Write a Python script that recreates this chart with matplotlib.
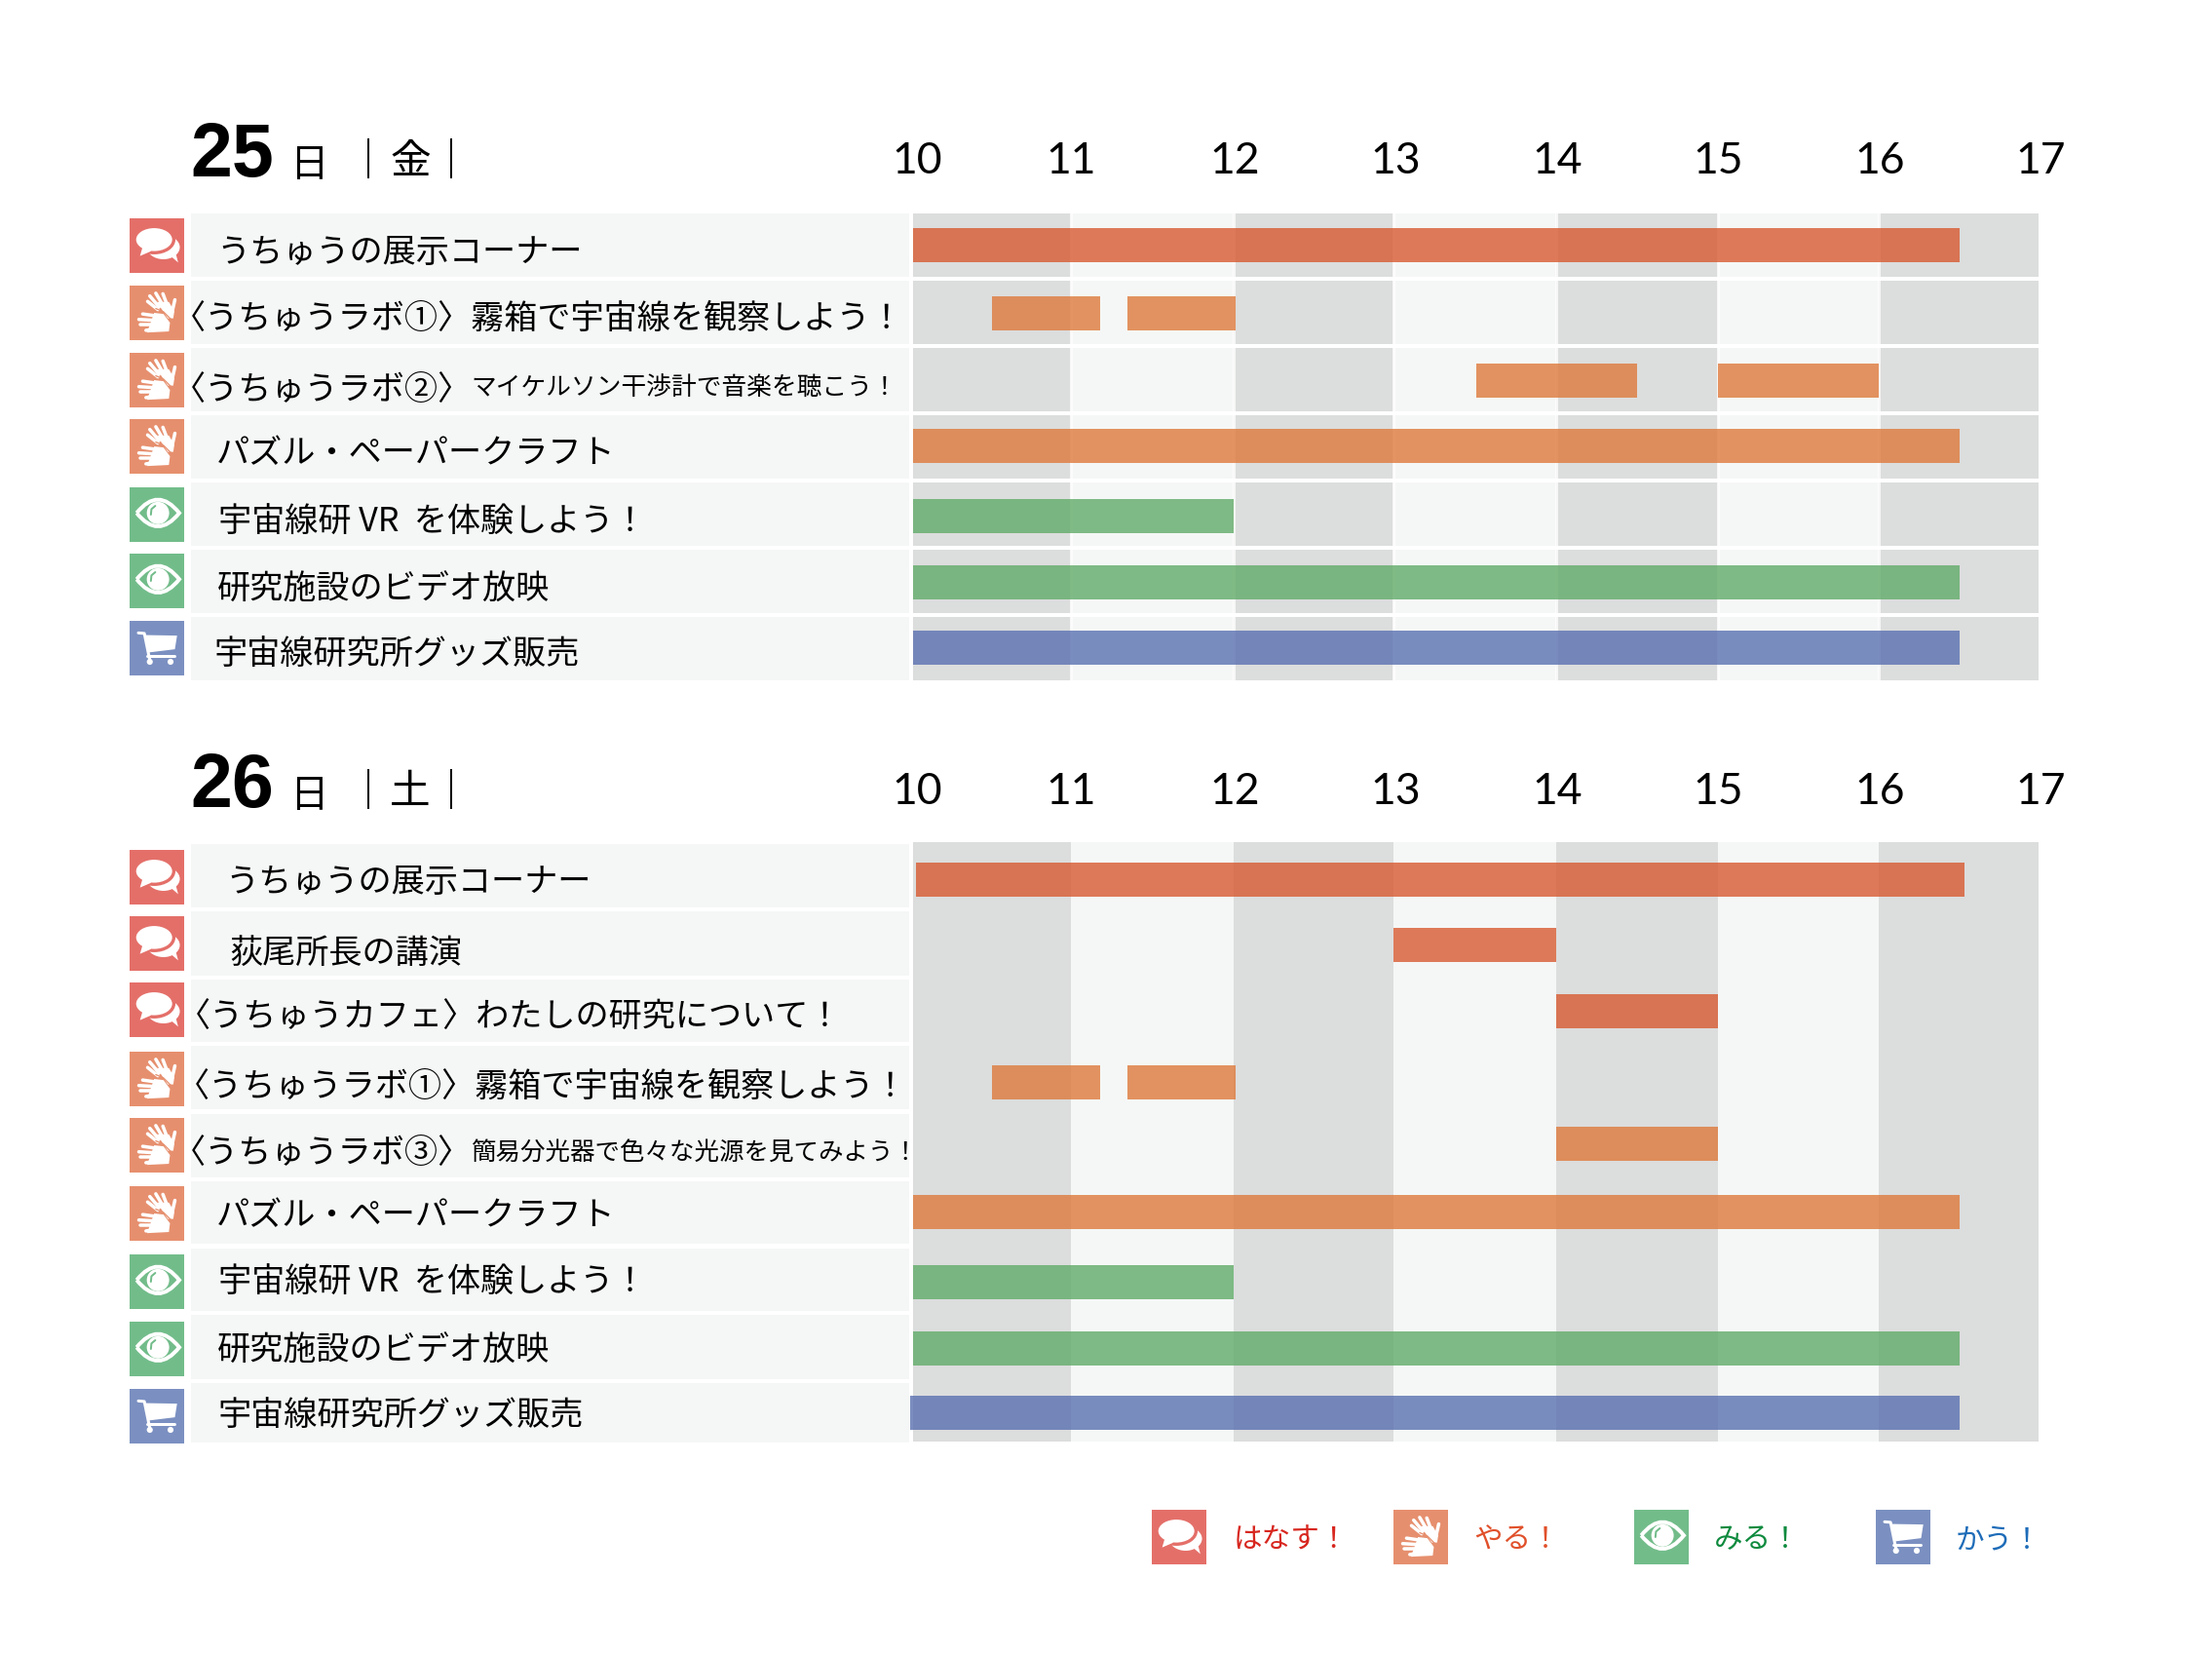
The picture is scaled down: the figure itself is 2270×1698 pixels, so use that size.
import matplotlib
matplotlib.use('Agg')
import matplotlib.pyplot as plt
from matplotlib.lines import Line2D
from matplotlib.patches import Circle, Ellipse, PathPatch, Polygon, Rectangle
from matplotlib.path import Path
from matplotlib.transforms import Affine2D, ScaledTranslation

plt.rcParams['font.family'] = ['Noto Sans CJK JP', 'DejaVu Sans']

W, H = 2270, 1698

# schedule data (hours)
hours = [10, 11, 12, 13, 14, 15, 16, 17]
column_edges = [10, 10.98, 11.99, 12.98, 13.99, 14.99, 15.99, 16.98]

day1_labels = ['うちゅうの展示コーナー', '〈うちゅうラボ①〉霧箱で宇宙線を観察しよう！', '〈うちゅうラボ②〉',
               'パズル・ペーパークラフト', '宇宙線研 VR  を体験しよう！', '研究施設のビデオ放映', '宇宙線研究所グッズ販売']
day1_subs = [None, None, 'マイケルソン干渉計で音楽を聴こう！', None, None, None, None]
day1_kinds = ['talk', 'do', 'do', 'do', 'see', 'see', 'buy']
day1_rows = [0, 1, 1, 2, 2, 3, 4, 5, 6]
day1_starts = [10.0, 10.49, 11.33, 13.49, 14.99, 10.0, 10.0, 10.0, 10.0]
day1_ends = [16.49, 11.16, 12.0, 14.49, 15.99, 16.49, 11.99, 16.49, 16.49]

day2_labels = ['うちゅうの展示コーナー', '荻尾所長の講演', '〈うちゅうカフェ〉わたしの研究について！',
               '〈うちゅうラボ①〉霧箱で宇宙線を観察しよう！', '〈うちゅうラボ③〉', 'パズル・ペーパークラフト',
               '宇宙線研 VR  を体験しよう！', '研究施設のビデオ放映', '宇宙線研究所グッズ販売']
day2_subs = [None, None, None, None, '簡易分光器で色々な光源を見てみよう！', None, None, None, None]
day2_kinds = ['talk', 'talk', 'talk', 'do', 'do', 'do', 'see', 'see', 'buy']
day2_rows = [0, 1, 2, 3, 3, 4, 5, 6, 7, 8]
day2_starts = [10.02, 12.98, 13.99, 10.49, 11.33, 13.99, 10.0, 10.0, 10.0, 9.98]
day2_ends = [16.52, 13.99, 14.99, 11.16, 12.0, 14.99, 16.49, 11.99, 16.49, 16.49]

legend_kinds = ['talk', 'do', 'see', 'buy']
legend_texts = ['はなす！', 'やる！', 'みる！', 'かう！']

# styles
icon_colors = {'talk': '#E46F69', 'do': '#E68F6E', 'see': '#72BC8A', 'buy': '#7B90C1'}
bar_colors = {'talk': '#D75A30', 'do': '#DE793B', 'see': '#61AB69', 'buy': '#5A71B0'}
legend_colors = {'talk': '#D7261E', 'do': '#E0502A', 'see': '#0E8A3E', 'buy': '#1E6CB8'}
GRAY = '#DCDDDD'
LIGHT = '#F5F7F6'

# layout in pixels, y down
day1_band_tops = [219, 288, 357, 426, 495, 564, 633]
day1_band_bottoms = [284, 353, 422, 491, 560, 629, 698]
day1_icon_tops = [224, 293, 362, 430, 500, 568, 637]
day1_text_x = [222, 177, 177, 222, 224, 223, 219]
day1_text_y = [259, 327, 400, 466, 536, 605, 672]
day1_sub_x = [None, None, 483, None, None, None, None]
day1_nudge = [0, 1, 1, -1, 2, 1, -1]

day2_band_tops = [866, 935, 1005, 1073, 1143, 1212, 1281, 1349, 1419]
day2_band_bottoms = [931, 1001, 1069, 1138, 1208, 1276, 1345, 1415, 1480]
day2_icon_tops = [872, 940, 1008, 1079, 1147, 1217, 1287, 1356, 1425]
day2_text_x = [231, 235, 182, 181, 177, 222, 224, 223, 224]
day2_text_y = [905, 978, 1044, 1115, 1184, 1248, 1316, 1386, 1453]
day2_sub_x = [None, None, None, None, 484, None, None, None, None]
day2_nudge = [0, -1.5, -2, 2.5, -3, -1.5, 1.5, 1.5, -1]

tick_offsets = [4, -3, -1, -1, -1, -1, -1, -1]

legend_icon_x = [1182, 1430, 1677, 1925]
legend_text_x = [1266, 1512, 1759, 2007]

fig = plt.figure(figsize=(W / 100, H / 100), dpi=100, facecolor='white')
page = fig.add_axes([0, 0, 1, 1])
page.set_xlim(0, W)
page.set_ylim(H, 0)
page.axis('off')


def px(v):
    return v * 0.72


def draw_icon(kind, x0, y0, size=56):
    page.add_patch(Rectangle((x0, y0), size, size, fc=icon_colors[kind], ec='none'))
    tr = Affine2D().scale(size).translate(x0, y0) + page.transData
    bg = icon_colors[kind]

    def fill(patch):
        patch.set_transform(tr)
        page.add_patch(patch)

    def line(xs, ys, w, color='white'):
        page.add_line(Line2D(xs, ys, color=color, lw=px(w), transform=tr, solid_capstyle='round', solid_joinstyle='round'))

    if kind == 'talk':
        fill(Ellipse((0.62, 0.53), 0.60, 0.44, fc='white', ec='none'))
        fill(Polygon([(0.74, 0.68), (0.89, 0.81), (0.84, 0.62)], fc='white', ec='none'))
        fill(Ellipse((0.45, 0.39), 0.78, 0.54, fc=bg, ec='none'))
        fill(Ellipse((0.45, 0.39), 0.66, 0.42, fc='white', ec='none'))
        fill(Polygon([(0.24, 0.52), (0.19, 0.69), (0.40, 0.60)], fc='white', ec='none'))
    elif kind == 'do':
        # upper hand
        fill(Polygon([(0.50, 0.30), (0.72, 0.30), (0.82, 0.47), (0.80, 0.60), (0.70, 0.60)], fc='white', ec='none'))
        line([0.37, 0.54], [0.19, 0.39], 3.5)
        line([0.48, 0.61], [0.14, 0.36], 3.5)
        line([0.61, 0.69], [0.15, 0.36], 3.5)
        line([0.83, 0.78], [0.26, 0.48], 3.5)
        line([0.33, 0.52], [0.29, 0.44], 3.5)
        # lower hand
        fill(Polygon([(0.45, 0.50), (0.62, 0.52), (0.74, 0.68), (0.72, 0.84), (0.32, 0.86)], fc='white', ec='none'))
        line([0.24, 0.52], [0.52, 0.56], 3.5)
        line([0.17, 0.50], [0.62, 0.64], 3.5)
        line([0.19, 0.50], [0.72, 0.72], 3.5)
        line([0.30, 0.50], [0.82, 0.79], 3.5)
        line([0.48, 0.62, 0.80], [0.42, 0.48, 0.66], 1.3, bg)
    elif kind == 'see':
        verts = [(0.13, 0.47), (0.52, -0.02), (0.91, 0.47), (0.52, 0.96), (0.13, 0.47)]
        codes = [Path.MOVETO, Path.CURVE3, Path.CURVE3, Path.CURVE3, Path.CURVE3]
        fill(PathPatch(Path(verts, codes), fc='none', ec='white', lw=px(4)))
        fill(Circle((0.52, 0.47), 0.205, fc='white', ec='none'))
        line([0.39, 0.40, 0.47], [0.50, 0.40, 0.34], 2, bg)
    else:
        line([0.16, 0.27, 0.37], [0.22, 0.23, 0.72], 3)
        fill(Polygon([(0.27, 0.26), (0.87, 0.27), (0.83, 0.52), (0.34, 0.58)], fc='white', ec='none'))
        line([0.33, 0.82], [0.65, 0.65], 3)
        fill(Circle((0.37, 0.75), 0.055, fc='white', ec='none'))
        fill(Circle((0.75, 0.75), 0.055, fc='white', ec='none'))


def draw_header(day, dow, ytop):
    page.text(195, ytop + 53, day, family='Liberation Sans', weight='bold', fontsize=55.5, va='baseline', ha='left', color='black')
    page.text(297, ytop + 53, '日', fontsize=28.5, va='baseline', ha='left', color='black')
    page.text(400, ytop + 50, dow, fontsize=30, va='baseline', ha='left', color='black')
    for x in (378, 463):
        page.add_line(Line2D([x, x], [ytop + 15, ytop + 54], color='black', lw=px(2)))


def draw_labels(labels, subs, kinds, tops, bottoms, icons, tx, ty, sx, sub_size):
    for i in range(len(labels)):
        page.add_patch(Rectangle((196, tops[i]), 737, bottoms[i] - tops[i], fc=LIGHT, ec='none'))
        draw_icon(kinds[i], 133, icons[i])
        page.text(tx[i], ty[i], labels[i], fontsize=24.6, va='center', ha='left', color='black')
        if subs[i]:
            page.text(sx[i], ty[i] - 1, subs[i], fontsize=sub_size, va='center', ha='left', color='black')


def draw_chart(top, bottom, pitch, first_center, rows, starts, ends, kinds, nudge, separators, pad):
    ax = fig.add_axes([937 / W, 1 - bottom / H, 7 * 165.5 / W, (bottom - top) / H])
    ax.set_xlim(10, 17)
    ax.set_ylim((bottom - first_center) / pitch, (top - first_center) / pitch)
    ax.patch.set_visible(False)
    for s in ax.spines.values():
        s.set_visible(False)
    for i in range(len(column_edges) - 1):
        ax.axvspan(column_edges[i], column_edges[i + 1], color=GRAY if i % 2 == 0 else LIGHT, lw=0, zorder=1)
    if separators:
        for h in column_edges[1:-1]:
            ax.axvline(h, color='white', lw=px(3), alpha=0.75, zorder=2)
        for r in range(len(kinds) - 1):
            ax.axhline(r + 0.5, color='white', lw=px(4), zorder=2)
    for r, s, e in zip(rows, starts, ends):
        y = r + nudge[r] / pitch
        ax.barh(y, e - s, left=s, height=35 / pitch, color=bar_colors[kinds[r]], alpha=0.8, lw=0, zorder=3, clip_on=False)
    ax.set_yticks([])
    ax.set_xticks(hours)
    ax.set_xticklabels([str(h) for h in hours], family='Lato', fontsize=32, color='black')
    ax.tick_params(axis='x', bottom=False, top=False, labelbottom=False, labeltop=True, length=0, pad=pad)
    for lab, off in zip(ax.get_xticklabels(), tick_offsets):
        lab.set_transform(lab.get_transform() + ScaledTranslation(off / 100, 0, fig.dpi_scale_trans))
    return ax


draw_header('25', '金', 128)
draw_labels(day1_labels, day1_subs, day1_kinds, day1_band_tops, day1_band_bottoms, day1_icon_tops,
            day1_text_x, day1_text_y, day1_sub_x, 18.5)
draw_chart(219, 698, 69, 251.5, day1_rows, day1_starts, day1_ends, day1_kinds, day1_nudge, True, 24)

draw_header('26', '土', 775)
draw_labels(day2_labels, day2_subs, day2_kinds, day2_band_tops, day2_band_bottoms, day2_icon_tops,
            day2_text_x, day2_text_y, day2_sub_x, 18.35)
draw_chart(864, 1479, 68.5, 902.5, day2_rows, day2_starts, day2_ends, day2_kinds, day2_nudge, False, 22)

for k, t, ix, tx in zip(legend_kinds, legend_texts, legend_icon_x, legend_text_x):
    draw_icon(k, ix, 1549)
    page.text(tx, 1580, t, fontsize=21.3, va='center', ha='left', color=legend_colors[k])

fig.savefig('out.png', dpi=100)
